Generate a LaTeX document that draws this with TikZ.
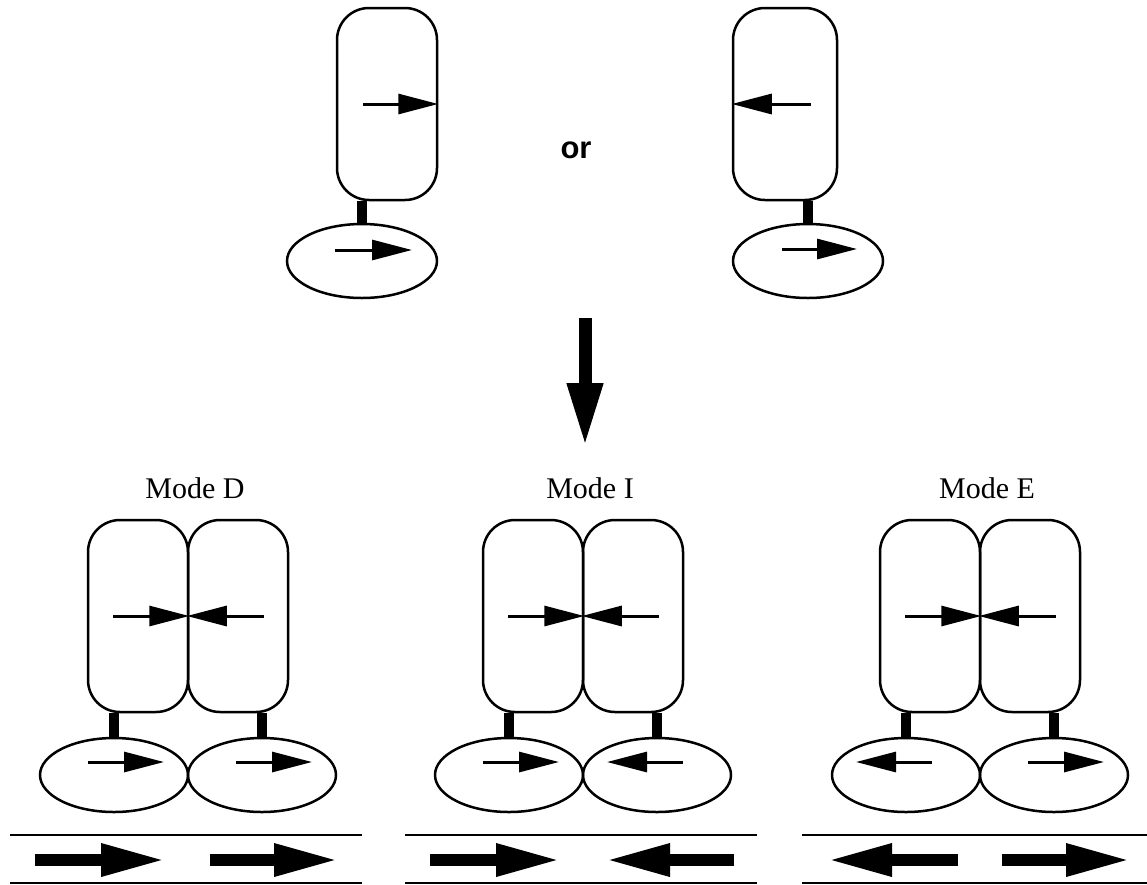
\documentclass[tikz,border=0pt]{standalone}
\usepackage{fontspec}
\setmainfont{Liberation Serif}
\newfontfamily\labelsans{Liberation Sans}
\usetikzlibrary{shapes.geometric,arrows.meta}

\tikzset{
  cell/.style={draw, line width=2.5pt, rounded corners=32pt, minimum width=100pt,
               minimum height=192pt, inner sep=0pt},
  disc/.style={draw, ellipse, line width=2.5pt, minimum width=148pt,
               minimum height=74pt, inner sep=0pt},
  stem/.style={line width=10pt},
  spin/.style={line width=3pt, -{Triangle[length=40pt,width=20pt]}},
  drift/.style={line width=12pt, -{Triangle[length=65pt,width=30pt]}},
  rail/.style={line width=2pt},
  modelabel/.style={font=\fontsize{30}{32}\selectfont, anchor=base, inner sep=0pt},
}

% One coupled pair: #1 contact x, #2 id, #3 label,
% #4 / #5 direction (+1 right, -1 left) of the left / right lower element
\newcommand{\modeblock}[5]{%
  \node[modelabel] (#2-label) at (#1+7,498) {#3};
  \node[cell] (#2-lc) at (#1-50,616) {};
  \node[cell] (#2-rc) at (#1+50,616) {};
  \draw[spin] ([xshift=-76pt]#2-lc.east) -- (#2-lc.east);
  \draw[spin] ([xshift=77pt]#2-rc.west) -- (#2-rc.west);
  \node[disc] (#2-ld) at (#1-74,775) {};
  \node[disc] (#2-rd) at (#1+74,775) {};
  \draw[stem] (#2-ld.north) -- (#2-ld.north |- #2-lc.south);
  \draw[stem] (#2-rd.north) -- (#2-rd.north |- #2-rc.south);
  \draw[spin] ([xshift=-26pt*(#4),yshift=13pt]#2-ld.center) -- ++({76*(#4)},0);
  \draw[spin] ([xshift=-26pt*(#5),yshift=13pt]#2-rd.center) -- ++({76*(#5)},0);
  \coordinate (#2-ra) at (#1-178,835);
  \coordinate (#2-rb) at (#1+174,835);
  \coordinate (#2-rc2) at (#1-178,883);
  \coordinate (#2-rd2) at (#1+174,883);
  \draw[rail] (#2-ra) -- (#2-rb);
  \draw[rail] (#2-rc2) -- (#2-rd2);
  \draw[drift] ({#1-87.5-65.5*(#4)},860) -- ({#1-87.5+65.5*(#4)},860);
  \draw[drift] ({#1+86.5-64.5*(#5)},860) -- ({#1+86.5+64.5*(#5)},860);
}

\begin{document}
\begin{tikzpicture}[x=1pt,y=-1pt]
  \useasboundingbox (0,0) rectangle (1147,884);

  % upper single units
  \node[cell] (ta) at (387,104) {};
  \node[disc, minimum width=150pt] (tad) at (362,261) {};
  \draw[stem] (tad.north) -- (tad.north |- ta.south);
  \draw[spin] ([xshift=-75pt]ta.east) -- (ta.east);
  \draw[spin] ([xshift=-27pt,yshift=11pt]tad.center) -- ++(77,0);

  \node[cell, minimum width=104pt] (tb) at (785,104) {};
  \node[disc, minimum width=150pt] (tbd) at (808,261) {};
  \draw[stem] (tbd.north) -- (tbd.north |- tb.south);
  \draw[spin] ([xshift=79pt]tb.west) -- (tb.west);
  \draw[spin] ([xshift=-26pt,yshift=12pt]tbd.center) -- ++(75,0);

  \node[font=\labelsans\bfseries\fontsize{31}{33}\selectfont, anchor=base, inner sep=0pt]
    (or) at (576,158) {or};

  % transition arrow
  \coordinate (flowtop) at (585,318);
  \coordinate (flowtip) at (585,447);
  \draw[line width=13pt, -{Triangle[length=64pt,width=33pt]}] (flowtop) -- (flowtip);

  % coupled pairs
  \modeblock{188}{D}{Mode D}{1}{1}
  \modeblock{583}{I}{Mode I}{1}{-1}
  \modeblock{980}{E}{Mode E}{-1}{1}
\end{tikzpicture}
\end{document}
